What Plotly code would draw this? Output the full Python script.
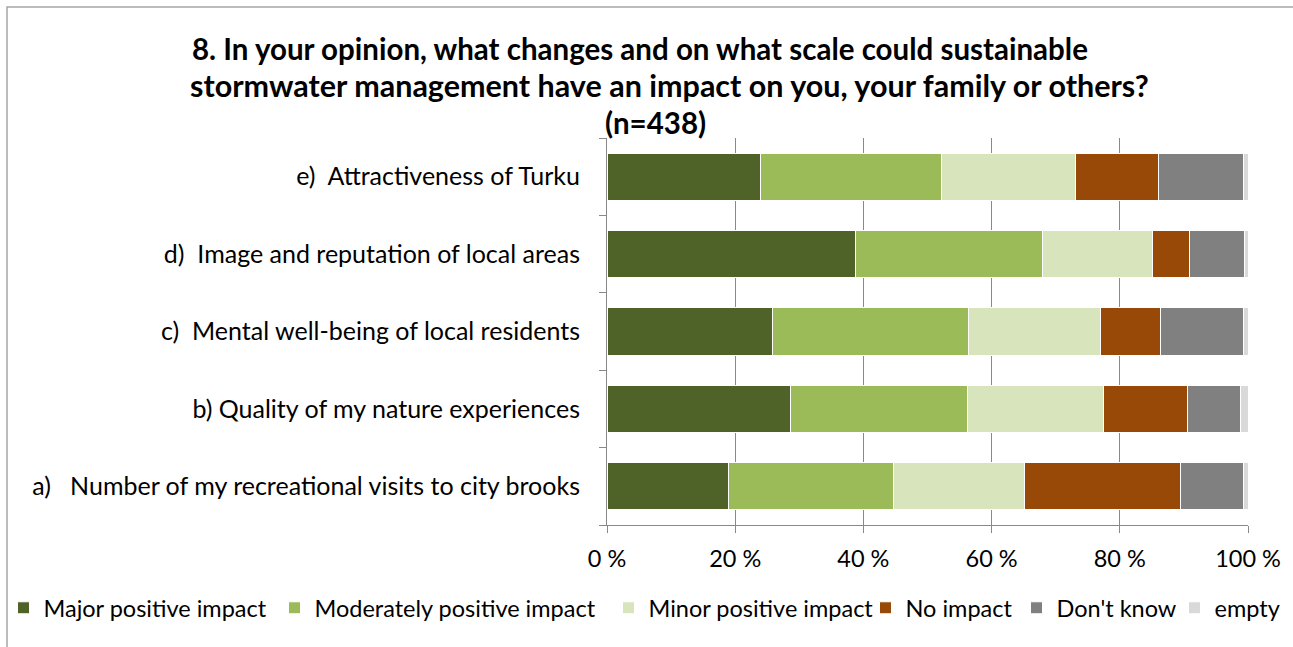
import plotly.graph_objects as go

# Survey question 8 (n=438): share of answers per statement, in percent
categories = [
    "a)\u00a0\u00a0\u00a0Number of my recreational visits to city brooks",
    "b) Quality of my nature experiences",
    "c)\u00a0\u00a0Mental well-being of local residents",
    "d)\u00a0\u00a0Image and reputation of local areas",
    "e)\u00a0\u00a0Attractiveness of Turku",
]

major_positive = [18.9, 28.7, 25.8, 38.8, 23.9]
moderately_positive = [25.8, 27.5, 30.6, 29.2, 28.3]
minor_positive = [20.4, 21.2, 20.6, 17.1, 20.9]
no_impact = [24.4, 13.2, 9.4, 5.7, 12.9]
dont_know = [9.8, 8.3, 12.9, 8.6, 13.3]
empty = [0.7, 1.1, 0.7, 0.6, 0.7]

series = [
    ("Major positive impact", major_positive, "#4f6228"),
    ("Moderately positive impact", moderately_positive, "#9bbb59"),
    ("Minor positive impact", minor_positive, "#d8e4bc"),
    ("No impact", no_impact, "#984807"),
    ("Don't know", dont_know, "#808080"),
    ("empty", empty, "#d9d9d9"),
]

title_lines = [
    "8. In your opinion, what changes and on what scale could sustainable",
    "stormwater management have an impact on you, your family or others?",
    "(n=438)",
]

x_ticks = [0, 20, 40, 60, 80, 100]
x_tick_labels = ["0 %", "20 %", "40 %", "60 %", "80 %", "100 %"]

FONT = "Lato"
W, H = 1293, 647
ML, MR, MT, MB = 607, 45, 138, 122

# left edge (px) of each legend entry's colour square
legend_left = [22, 293, 627, 884, 1035, 1193]

pw = W - ML - MR
ph = H - MT - MB


def px_x(v):
    return (v - ML) / pw


def px_y(v):
    return (H - MB - v) / ph


fig = go.Figure()
legend_ids = ["legend"] + [f"legend{i}" for i in range(2, len(series) + 1)]
for (name, vals, color), lid in zip(series, legend_ids):
    fig.add_trace(go.Bar(
        y=categories, x=vals, name=name, orientation="h",
        legend=lid, showlegend=True,
        marker=dict(color=color, line=dict(color="white", width=1)),
    ))

# chart area outline (left and top edges)
fig.add_shape(
    type="path", xref="paper", yref="paper",
    path=f"M {px_x(7)} {px_y(660)} L {px_x(7)} {px_y(7)} L {px_x(1300)} {px_y(7)}",
    line=dict(color="#a6a6a6", width=1.5),
)

# bold three-line heading, each line centred on its own
for line, cx, cy, fs in zip(title_lines, [640, 669, 655], [48, 85, 122], [29.5, 30.5, 29.5]):
    fig.add_annotation(
        text=f"<b>{line}</b>", xref="paper", yref="paper",
        x=px_x(cx), y=px_y(cy), xanchor="center", yanchor="middle",
        showarrow=False, font=dict(family=FONT, size=fs, color="black"),
    )

legend_layouts = {}
for lid, left in zip(legend_ids, legend_left):
    legend_layouts[lid] = dict(
        orientation="h", x=px_x(left - 18.5), xanchor="left",
        y=px_y(608), yanchor="middle",
        font=dict(size=23.5), itemwidth=30, bgcolor="rgba(0,0,0,0)",
    )

fig.update_layout(
    width=W, height=H,
    margin=dict(l=ML, r=MR, t=MT, b=MB, autoexpand=False),
    barmode="stack", bargap=0.39, showlegend=True,
    paper_bgcolor="white", plot_bgcolor="white",
    font=dict(family=FONT, size=20, color="black"),
    xaxis=dict(
        range=[0, 100], tickvals=x_ticks, ticktext=x_tick_labels,
        showgrid=True, gridcolor="#898989", gridwidth=1,
        showline=True, linecolor="#898989", linewidth=1,
        ticks="outside", ticklen=7, tickcolor="#898989",
        ticklabelstandoff=6, zeroline=False, automargin=False,
        tickfont=dict(size=23.5),
    ),
    yaxis=dict(
        showline=True, linecolor="#898989", linewidth=1,
        ticks="outside", ticklen=7, tickcolor="#898989",
        tickson="boundaries", ticklabelstandoff=21, automargin=False,
        tickfont=dict(size=25),
    ),
    **legend_layouts,
)

fig.write_html("out.html")
